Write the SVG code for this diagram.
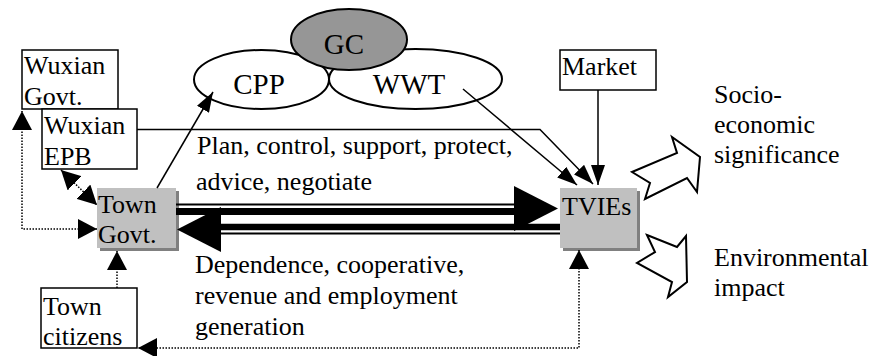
<svg xmlns="http://www.w3.org/2000/svg" width="873" height="356" viewBox="0 0 873 356" font-family="'Liberation Serif', 'Times New Roman', serif" font-size="26">
  <style>
    .box { fill: #fff; stroke: #000; stroke-width: 1.5; }
    .gbox { fill: #c0c0c0; }
    .shadow { fill: #808080; }
    .ell { fill: #fff; stroke: #000; stroke-width: 2; }
    .gc { fill: #969696; stroke: #000; stroke-width: 2; }
    .thin { fill: none; stroke: #000; stroke-width: 1.5; }
    .dot { fill: none; stroke: #000; stroke-width: 1.5; stroke-dasharray: 1.5 1.5; }
    .head { fill: #000; stroke: none; }
    .block { fill: #fff; stroke: #000; stroke-width: 2; stroke-linejoin: miter; }
  </style>
  <defs>
    <marker id="solidHead" markerUnits="userSpaceOnUse" markerWidth="20" markerHeight="14" refX="20" refY="7" orient="auto-start-reverse">
      <path d="M0,0 L20,7 L0,14 z" fill="#000"/>
    </marker>
    <marker id="dotHead" markerUnits="userSpaceOnUse" markerWidth="19" markerHeight="20" refX="19" refY="10" orient="auto-start-reverse">
      <path d="M0,0 L19,10 L0,20 z" fill="#000"/>
    </marker>
  </defs>

  <!-- government and enterprise boxes -->
  <g id="wuxian-govt">
    <rect class="box" x="22" y="50" width="96" height="59"/>
    <text x="24" y="74">Wuxian</text>
    <text x="24" y="105">Govt.</text>
  </g>
  <g id="wuxian-epb">
    <rect class="box" x="42" y="109" width="95" height="60"/>
    <text x="44" y="134">Wuxian</text>
    <text x="44" y="165">EPB</text>
  </g>
  <g id="town-govt">
    <rect class="shadow" x="100" y="191" width="79" height="60"/>
    <rect class="gbox" x="97" y="188" width="79" height="60"/>
    <text x="98" y="213">Town</text>
    <text x="98" y="243">Govt.</text>
  </g>
  <g id="tvies">
    <rect class="shadow" x="563" y="191" width="77" height="60"/>
    <rect class="gbox" x="560" y="188" width="77" height="60"/>
    <text x="562" y="215">TVIEs</text>
  </g>
  <g id="market">
    <rect class="box" x="560" y="50" width="96" height="40"/>
    <text x="562" y="75">Market</text>
  </g>
  <g id="town-citizens">
    <rect class="box" x="41" y="288" width="96" height="60"/>
    <text x="43" y="315">Town</text>
    <text x="43" y="345">citizens</text>
  </g>

  <!-- plant ellipses, GC drawn over the other two -->
  <g id="cpp">
    <ellipse class="ell" cx="261.5" cy="79.5" rx="67.5" ry="29.5"/>
    <text x="259" y="94" font-size="29" text-anchor="middle">CPP</text>
  </g>
  <g id="wwt">
    <ellipse class="ell" cx="415.5" cy="79" rx="86.5" ry="30"/>
    <text x="409" y="94" font-size="29" text-anchor="middle">WWT</text>
  </g>
  <g id="gc">
    <ellipse class="gc" cx="349" cy="39.5" rx="58" ry="30.5"/>
    <text x="344" y="54" font-size="29" text-anchor="middle">GC</text>
  </g>

  <!-- outcome labels -->
  <g id="socio-economic">
    <text x="714" y="103">Socio-</text>
    <text x="714" y="133">economic</text>
    <text x="714" y="163">significance</text>
  </g>
  <g id="environmental">
    <text x="714" y="266">Environmental</text>
    <text x="714" y="296">impact</text>
  </g>

  <!-- connectors -->
  <g id="connectors">
    <!-- thin solid arrows -->
    <line class="thin" x1="157" y1="188" x2="213" y2="92" marker-end="url(#solidHead)"/>
    <line class="thin" x1="463" y1="89" x2="577" y2="185" marker-end="url(#solidHead)"/>
    <polyline class="thin" points="137,129.5 540,129.5 593,184" marker-end="url(#solidHead)"/>
    <line class="thin" x1="598" y1="90" x2="598" y2="185" marker-end="url(#solidHead)"/>

    <!-- dotted links -->
    <path class="dot" d="M97,229 H22 V111" marker-start="url(#dotHead)" marker-end="url(#dotHead)"/>
    <path class="dot" d="M61,170 L97,205" marker-start="url(#dotHead)" marker-end="url(#dotHead)"/>
    <path class="dot" d="M117,288 V251" marker-end="url(#dotHead)"/>
    <path class="dot" d="M579,250 V348 H138" marker-start="url(#dotHead)" marker-end="url(#dotHead)"/>

    <!-- heavy compound arrow: Town Govt. to TVIEs -->
    <line x1="176" y1="204.5" x2="515" y2="204.5" stroke="#000" stroke-width="2"/>
    <line x1="176" y1="211.5" x2="515" y2="211.5" stroke="#000" stroke-width="7"/>
    <polygon class="head" points="514,186 558,208.5 514,231"/>

    <!-- heavy compound arrow: TVIEs to Town Govt. -->
    <line x1="220" y1="227" x2="560" y2="227" stroke="#000" stroke-width="6.5"/>
    <line x1="220" y1="233.5" x2="560" y2="233.5" stroke="#000" stroke-width="2"/>
    <polygon class="head" points="221,207 177,229.5 221,252"/>

    <!-- relationship labels -->
    <text x="197" y="154">Plan, control, support, protect,</text>
    <text x="196" y="190">advice, negotiate</text>
    <text x="195" y="273">Dependence, cooperative,</text>
    <text x="195" y="304">revenue and employment</text>
    <text x="195" y="335">generation</text>
  </g>

  <!-- hollow block arrows towards the outcomes -->
  <g id="outcome-arrows">
    <polygon class="block" points="632,172 677,153 672,137 700,157 697,192 687,178 645,199 650,183"/>
    <polygon class="block" points="647,235 677,247 686,236 687,282 668,297 672,282 637,263 655,252"/>
  </g>
</svg>
